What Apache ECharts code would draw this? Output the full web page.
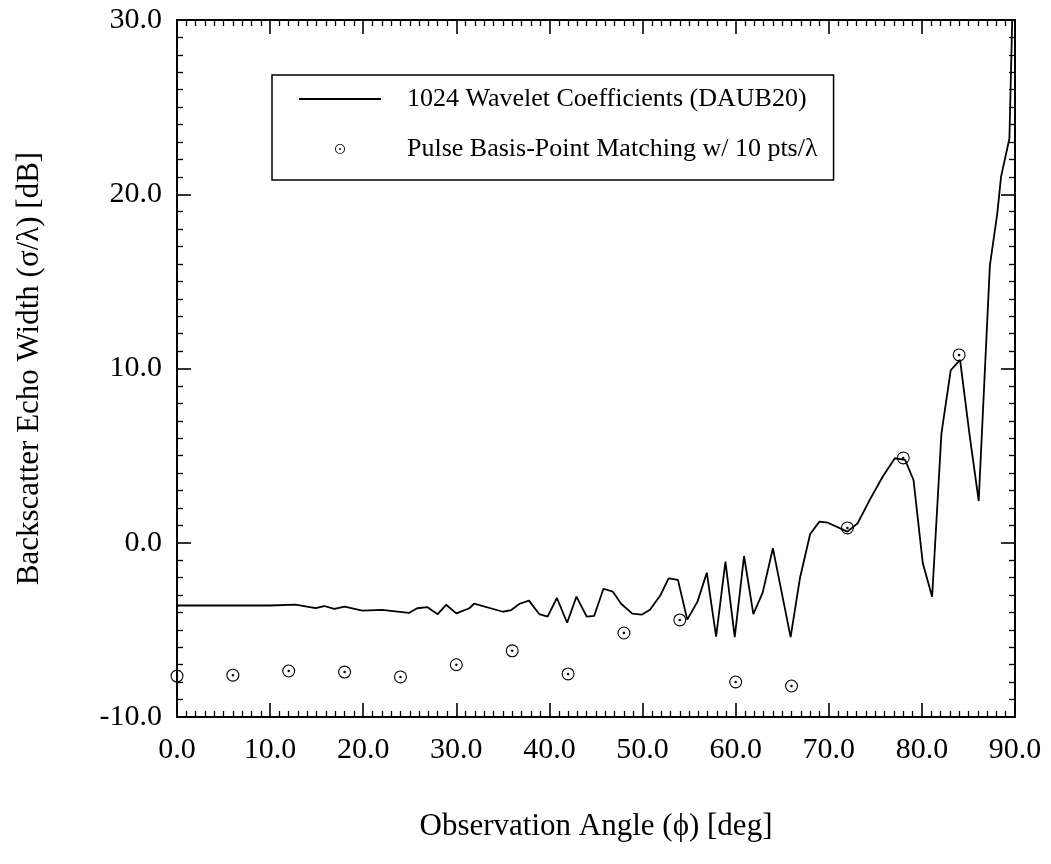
<!DOCTYPE html>
<html>
<head>
<meta charset="utf-8">
<script src="https://cdn.jsdelivr.net/npm/echarts@6/dist/echarts.min.js"></script>
<style>
html,body{margin:0;padding:0;background:#fff;}
#chart{width:1051px;height:864px;}
</style>
</head>
<body>
<div id="chart"></div>
<script>
// Wavelet (DAUB20) solution: observation angle (deg) and echo width (dB)
var lineX = [0, 5, 10, 12.7, 14.9, 15.8, 16.9, 18, 19.9, 22, 24.9, 25.8, 26.9, 28, 28.9, 30, 31.4, 31.9, 35, 35.9, 36.8, 37.8, 38.9, 39.8, 40.8, 41.9, 42.9, 44, 44.8, 45.8, 46.8, 47.7, 48.9, 49.9, 50.8, 51.9, 52.8, 53.8, 54.8, 55.9, 56.9, 57.9, 58.9, 59.9, 60.9, 61.9, 62.9, 64, 65.9, 66.9, 68, 69, 69.9, 72, 73.1, 74.4, 75.8, 77.1, 78.2, 79.1, 80.1, 81.1, 82.1, 83.1, 84.1, 85.1, 86.1, 87.3, 88.1, 88.5, 89.4, 89.7];
var lineY = [-3.6, -3.6, -3.6, -3.55, -3.75, -3.63, -3.8, -3.67, -3.9, -3.85, -4.03, -3.76, -3.7, -4.1, -3.56, -4.05, -3.76, -3.5, -3.96, -3.86, -3.5, -3.32, -4.09, -4.24, -3.17, -4.59, -3.09, -4.24, -4.2, -2.64, -2.8, -3.5, -4.07, -4.13, -3.85, -3.03, -2.04, -2.13, -4.41, -3.38, -1.72, -5.39, -1.08, -5.42, -0.76, -4.09, -2.86, -0.32, -5.42, -2.04, 0.5, 1.21, 1.15, 0.64, 1.12, 2.46, 3.8, 4.85, 4.75, 3.6, -1.18, -3.1, 6.28, 9.9, 10.5, 6.28, 2.4, 15.9, 18.9, 21.0, 23.2, 30];
// Pulse basis point matching
var ptsX = [0, 6, 12, 18, 24, 30, 36, 42, 48, 54, 60, 66, 72, 78, 84];
var ptsY = [-7.65, -7.6, -7.36, -7.42, -7.7, -7.0, -6.2, -7.53, -5.18, -4.43, -7.99, -8.22, 0.85, 4.87, 10.78];

var lineName = '1024 Wavelet Coefficients (DAUB20)';
var ptsName = 'Pulse Basis-Point Matching w/ 10 pts/\u03BB';
var xTitle = 'Observation Angle (\u03D5) [deg]';
var yTitle = 'Backscatter Echo Width (\u03C3/\u03BB) [dB]';

var FONT = '"Liberation Serif", "Times New Roman", serif';
var ringPath = 'path://M-10 0A10 10 0 1 0 10 0A10 10 0 1 0 -10 0ZM-8.3 0A8.3 8.3 0 1 1 8.3 0A8.3 8.3 0 1 1 -8.3 0ZM-1.9 0A1.9 1.9 0 1 0 1.9 0A1.9 1.9 0 1 0 -1.9 0Z';

function fmt(v){ return v.toFixed(1); }

var baseAxis = {
  axisLine: {show: true, onZero: false, lineStyle: {color: '#000', width: 2}},
  axisTick: {show: true, inside: true, length: 14, lineStyle: {color: '#000', width: 1.6}},
  minorTick: {show: true, splitNumber: 10, length: 6, lineStyle: {color: '#000', width: 1.3}},
  splitLine: {show: false},
  minorSplitLine: {show: false}
};

var chart = echarts.init(document.getElementById('chart'), null, {renderer: 'canvas'});
chart.setOption({
  backgroundColor: '#fff',
  animation: false,
  grid: {left: 177, top: 20, width: 838, height: 697, containLabel: false},
  legend: {
    orient: 'vertical',
    left: 272, top: 75,
    padding: [11, 16, 18, 27],
    itemWidth: 82, itemHeight: 10,
    itemGap: 24,
    borderColor: '#000', borderWidth: 1.5,
    backgroundColor: '#fff',
    selectedMode: false,
    textStyle: {fontFamily: FONT, fontSize: 26, color: '#000', padding: [0, 0, 0, 21]},
    data: [
      {name: lineName, icon: 'path://M0 0L82 0L82 2L0 2Z', itemStyle: {color: '#000'}},
      {name: ptsName}
    ]
  },
  xAxis: [
    Object.assign({}, baseAxis, {
      type: 'value', position: 'bottom', min: 0, max: 90, interval: 10,
      name: xTitle, nameLocation: 'middle', nameGap: 94,
      nameTextStyle: {fontFamily: FONT, fontSize: 31, color: '#000'},
      axisLabel: {formatter: fmt, fontFamily: FONT, fontSize: 30, color: '#000', margin: 18}
    }),
    Object.assign({}, baseAxis, {
      type: 'value', position: 'top', min: 0, max: 90, interval: 10,
      axisLabel: {show: false}
    })
  ],
  yAxis: [
    Object.assign({}, baseAxis, {
      type: 'value', position: 'left', min: -10, max: 30, interval: 10,
      name: yTitle, nameLocation: 'middle', nameGap: 132,
      nameTextStyle: {fontFamily: FONT, fontSize: 31, color: '#000'},
      axisLabel: {formatter: fmt, fontFamily: FONT, fontSize: 30, color: '#000', margin: 15}
    }),
    Object.assign({}, baseAxis, {
      type: 'value', position: 'right', min: -10, max: 30, interval: 10,
      axisLabel: {show: false}
    })
  ],
  series: [
    {
      name: lineName, type: 'line', xAxisIndex: 0, yAxisIndex: 0,
      data: lineX.map(function(x, i){ return [x, lineY[i]]; }),
      showSymbol: false, symbol: 'none',
      lineStyle: {color: '#000', width: 1.8},
      itemStyle: {color: '#000'},
      z: 3
    },
    {
      name: ptsName, type: 'scatter', xAxisIndex: 0, yAxisIndex: 0,
      data: ptsX.map(function(x, i){ return [x, ptsY[i]]; }),
      symbol: ringPath, symbolSize: 13, symbolKeepAspect: true,
      itemStyle: {color: '#000', opacity: 1},
      z: 4
    }
  ]
});
</script>
</body>
</html>
